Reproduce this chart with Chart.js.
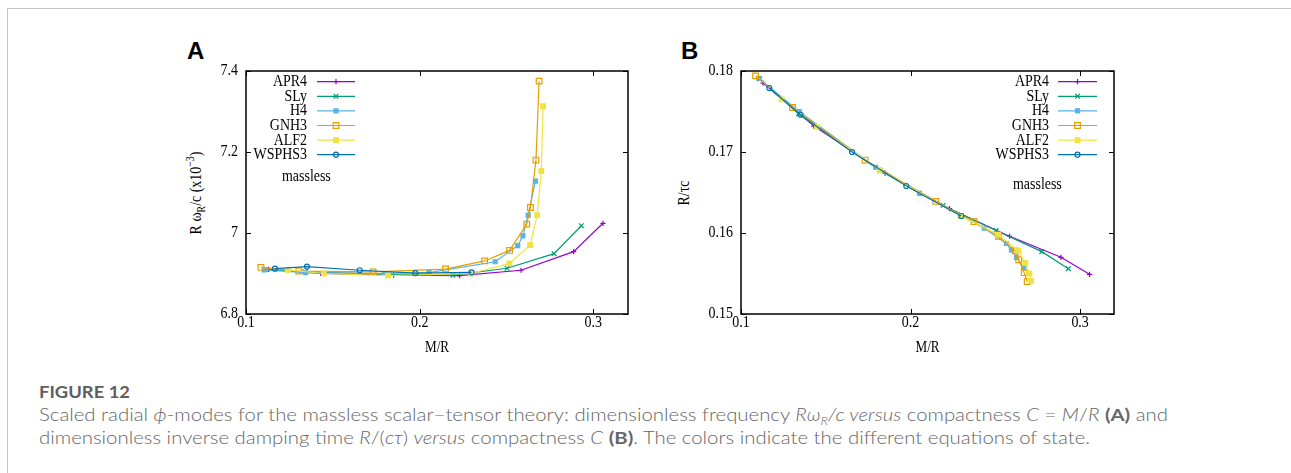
<!DOCTYPE html>
<html>
<head>
<meta charset="utf-8">
<script src="https://cdn.jsdelivr.net/npm/chart.js@4.4.0/dist/chart.umd.min.js"></script>
<style>
  body { margin:0; width:1291px; height:473px; background:#fff; position:relative; overflow:hidden; font-family:"Liberation Serif", serif; }
  #frame { position:absolute; left:7px; top:8px; right:-2px; bottom:-2px; border-top:1px solid #c4c4c4; border-left:1px solid #c4c4c4; }
  .box { position:absolute; }
  .panel { position:absolute; font:bold 24px "Liberation Sans", Arial, sans-serif; line-height:24px; color:#000; }
  .ytitle { position:absolute; font-size:17px; color:#000; white-space:nowrap; transform:translate(-50%,-50%) rotate(-90deg) scaleX(0.82); }
  .ytitle sub, .ytitle sup { font-size:12px; }
  .cap { position:absolute; left:39px; white-space:nowrap; transform-origin:0 50%; font-family:Lato, "Open Sans", sans-serif; }
  #fig { top:382px; font-size:17px; line-height:20px; color:#5e5e5e; font-weight:bold; }
  #l1 { top:405px; font-size:17px; line-height:20px; color:#666; font-weight:300; }
  #l2 { top:428px; font-size:17px; line-height:20px; color:#666; font-weight:300; }
  .cap sub { font-size:11px; }
  .cap b { font-weight:bold; }
</style>
</head>
<body>
<div id="frame"></div>
<div class="panel" style="left:187px; top:39px;">A</div>
<div class="panel" style="left:681px; top:39px;">B</div>
<div class="ytitle" style="left:196px; top:193px;">R ω<sub>R</sub>/c (x10<sup>−3</sup>)</div>
<div class="ytitle" style="left:684px; top:193px;">R/τc</div>
<div class="box" style="left:140px; top:50px; width:510px; height:310px;"><canvas id="chartA"></canvas></div>
<div class="box" style="left:650px; top:50px; width:490px; height:310px;"><canvas id="chartB"></canvas></div>
<div class="cap" id="fig">FIGURE 12</div>
<div class="cap" id="l1">Scaled radial <i>ϕ</i>-modes for the massless scalar−tensor theory: dimensionless frequency <i>Rω<sub>R</sub>/c versus</i> compactness <i>C</i> = <i>M</i>/<i>R</i> <b>(A)</b> and</div>
<div class="cap" id="l2">dimensionless inverse damping time <i>R</i>/(<i>cτ</i>) <i>versus</i> compactness <i>C</i> <b>(B)</b>. The colors indicate the different equations of state.</div>

<script>
// compactness M/R for each equation of state
var apr4C   = [0.113, 0.143, 0.185, 0.223, 0.2584, 0.2887, 0.3056];
var slyC    = [0.111, 0.134, 0.182, 0.2192, 0.2504, 0.2774, 0.2931];
var h4C     = [0.1105, 0.1343, 0.1795, 0.2053, 0.2435, 0.2565, 0.2595, 0.2625, 0.2667];
var gnh3C   = [0.1086, 0.1304, 0.1732, 0.2149, 0.2374, 0.2518, 0.2617, 0.2638, 0.2670, 0.2688];
var alf2C   = [0.124, 0.1448, 0.1818, 0.2297, 0.2517, 0.2636, 0.2677, 0.2701, 0.2711];
var wsphs3C = [0.1167, 0.1351, 0.1655, 0.1975, 0.2299];

// panel A: R omega_R / c  (x10^-3)
var apr4W   = [6.910, 6.900, 6.896, 6.895, 6.908, 6.954, 7.024];
var slyW    = [6.910, 6.904, 6.898, 6.896, 6.913, 6.949, 7.018];
var h4W     = [6.909, 6.902, 6.900, 6.902, 6.929, 6.969, 6.993, 7.044, 7.128];
var gnh3W   = [6.915, 6.906, 6.904, 6.911, 6.931, 6.957, 7.022, 7.063, 7.180, 7.375];
var alf2W   = [6.909, 6.900, 6.895, 6.900, 6.925, 6.970, 7.044, 7.153, 7.313];
var wsphs3W = [6.912, 6.917, 6.908, 6.901, 6.903];

// panel B: R / (tau c)
var apr4T   = [0.1785, 0.1732, 0.1674, 0.1630, 0.1596, 0.1570, 0.1549];
var slyT    = [0.1790, 0.1747, 0.1677, 0.1634, 0.1603, 0.1577, 0.1556];
var h4T     = [0.1791, 0.1750, 0.1681, 0.1649, 0.1606, 0.1587, 0.1579, 0.1570, 0.1557];
var gnh3T   = [0.1794, 0.1755, 0.1690, 0.1639, 0.1614, 0.1596, 0.1578, 0.1567, 0.1551, 0.1540];
var alf2T   = [0.1765, 0.1731, 0.1678, 0.1621, 0.1598, 0.1578, 0.1563, 0.1550, 0.1541];
var wsphs3T = [0.1779, 0.1746, 0.1700, 0.1658, 0.1621];

var eosNames = ['APR4', 'SLy', 'H4', 'GNH3', 'ALF2', 'WSPHS3'];

var xTicks = [0.1, 0.2, 0.3];
var xTickLabels = ['0.1', '0.2', '0.3'];
var yTicksA = [6.8, 7.0, 7.2, 7.4];
var yTickLabelsA = ['6.8', '7', '7.2', '7.4'];
var yTicksB = [0.15, 0.16, 0.17, 0.18];
var yTickLabelsB = ['0.15', '0.16', '0.17', '0.18'];

// gnuplot-like look for each series
var looks = [
  { color: '#9400d3', mark: 'cross',    radius: 2.6, open: false },
  { color: '#009e73', mark: 'crossRot', radius: 3.3, open: false },
  { color: '#56b4e9', mark: 'rect',     radius: 2.8, open: false },
  { color: '#e69f00', mark: 'rect',     radius: 4,   open: true },
  { color: '#f0e442', mark: 'rect',     radius: 3.3, open: false },
  { color: '#0072b2', mark: 'circle',   radius: 2.5, open: true }
];

var serif = '"Liberation Serif", "Times New Roman", serif';
var squeeze = 0.82;   // the figure's lettering is narrow for its height

function pts(xs, ys) {
  return xs.map(function (x, i) { return { x: x, y: ys[i] }; });
}

function buildSets(series) {
  return series.map(function (s, i) {
    var lk = looks[i];
    return {
      label: eosNames[i],
      data: pts(s[0], s[1]),
      showLine: true,
      borderColor: lk.color,
      backgroundColor: lk.color,
      borderWidth: 1.2,
      pointStyle: lk.mark,
      pointRadius: lk.radius,
      pointBorderColor: lk.color,
      pointBackgroundColor: lk.open ? 'rgba(0,0,0,0)' : lk.color,
      pointBorderWidth: 1.2,
      order: 10 - i
    };
  });
}

function drawMark(ctx, lk, x, y) {
  var r = lk.radius;
  ctx.save();
  ctx.strokeStyle = lk.color;
  ctx.fillStyle = lk.open ? 'rgba(0,0,0,0)' : lk.color;
  ctx.lineWidth = 1.2;
  ctx.beginPath();
  if (lk.mark === 'cross') {
    ctx.moveTo(x - r, y); ctx.lineTo(x + r, y);
    ctx.moveTo(x, y - r); ctx.lineTo(x, y + r);
    ctx.stroke();
  } else if (lk.mark === 'crossRot') {
    var d = r * Math.SQRT1_2;
    ctx.moveTo(x - d, y - d); ctx.lineTo(x + d, y + d);
    ctx.moveTo(x - d, y + d); ctx.lineTo(x + d, y - d);
    ctx.stroke();
  } else if (lk.mark === 'rect') {
    var h = r * Math.SQRT1_2;
    ctx.rect(x - h, y - h, 2 * h, 2 * h);
    ctx.fill(); ctx.stroke();
  } else {
    ctx.arc(x, y, r, 0, Math.PI * 2);
    ctx.fill(); ctx.stroke();
  }
  ctx.restore();
}

function narrowText(ctx, text, x, y, align) {
  ctx.save();
  ctx.translate(x, y);
  ctx.scale(squeeze, 1);
  ctx.textAlign = align;
  ctx.fillText(text, 0, 0);
  ctx.restore();
}

var gnuplotLook = {
  id: 'gnuplotLook',
  afterDraw: function (chart, args, o) {
    var ctx = chart.ctx, a = chart.chartArea;
    var xs = chart.scales.x, ys = chart.scales.y;
    ctx.save();
    ctx.strokeStyle = '#000';
    ctx.lineWidth = 1;
    ctx.beginPath();
    xs.ticks.forEach(function (t) {
      var px = Math.round(xs.getPixelForValue(t.value)) + 0.5;
      ctx.moveTo(px, a.bottom); ctx.lineTo(px, a.bottom - 5);
      ctx.moveTo(px, a.top); ctx.lineTo(px, a.top + 5);
    });
    ys.ticks.forEach(function (t) {
      var py = Math.round(ys.getPixelForValue(t.value)) + 0.5;
      ctx.moveTo(a.left, py); ctx.lineTo(a.left + 5, py);
      ctx.moveTo(a.right, py); ctx.lineTo(a.right - 5, py);
    });
    ctx.stroke();
    ctx.lineWidth = 1.5;
    ctx.strokeRect(a.left, a.top, a.right - a.left, a.bottom - a.top);

    ctx.font = '17px ' + serif;
    ctx.fillStyle = '#000';
    ctx.textBaseline = 'middle';

    // tick labels
    xs.ticks.forEach(function (t, i) {
      narrowText(ctx, o.xLabels[i], xs.getPixelForValue(t.value), a.bottom + 9, 'center');
    });
    ys.ticks.forEach(function (t, i) {
      narrowText(ctx, o.yLabels[i], a.left - 8, ys.getPixelForValue(t.value), 'right');
    });

    // key, gnuplot style: name right-aligned, then a line sample with its mark
    var base = o.fromRight ? a.right : a.left;
    eosNames.forEach(function (name, i) {
      var y = a.top + o.rowY + i * o.rowStep;
      ctx.fillStyle = '#000';
      narrowText(ctx, name, base + o.textX, y, 'right');
      var lk = looks[i];
      ctx.strokeStyle = lk.color;
      ctx.lineWidth = 1.2;
      ctx.beginPath();
      ctx.moveTo(base + o.lineX0, y); ctx.lineTo(base + o.lineX1, y);
      ctx.stroke();
      drawMark(ctx, lk, base + (o.lineX0 + o.lineX1) / 2, y);
    });
    ctx.fillStyle = '#000';
    narrowText(ctx, 'massless', base + o.noteX, a.top + o.noteY, 'left');

    // x title
    ctx.font = '16px ' + serif;
    narrowText(ctx, 'M/R', (a.left + a.right) / 2, a.bottom + 34, 'center');
    ctx.restore();
  }
};

function makeChart(id, series, yMin, yMax, yTicks, yLabels, yWidth, padRight, key) {
  key.xLabels = xTickLabels;
  key.yLabels = yLabels;
  return new Chart(document.getElementById(id).getContext('2d'), {
    type: 'scatter',
    data: { datasets: buildSets(series) },
    plugins: [gnuplotLook],
    options: {
      responsive: true,
      maintainAspectRatio: false,
      animation: false,
      layout: { padding: { top: 21, right: padRight, left: 0, bottom: 0 } },
      plugins: {
        legend: { display: false },
        tooltip: { enabled: false },
        gnuplotLook: key
      },
      scales: {
        x: {
          type: 'linear', min: 0.1, max: 0.32,
          afterBuildTicks: function (s) { s.ticks = xTicks.map(function (v) { return { value: v }; }); },
          afterFit: function (s) { s.height = 46; },
          ticks: { display: false },
          grid: { display: false, drawTicks: false },
          border: { display: false }
        },
        y: {
          type: 'linear', min: yMin, max: yMax,
          afterBuildTicks: function (s) { s.ticks = yTicks.map(function (v) { return { value: v }; }); },
          afterFit: function (s) { s.width = yWidth; },
          ticks: { display: false },
          grid: { display: false, drawTicks: false },
          border: { display: false }
        }
      }
    }
  });
}

var chartA = makeChart('chartA',
  [[apr4C, apr4W], [slyC, slyW], [h4C, h4W], [gnh3C, gnh3W], [alf2C, alf2W], [wsphs3C, wsphs3W]],
  6.8, 7.4, yTicksA, yTickLabelsA, 106, 22,
  { fromRight: false, textX: 61, lineX0: 71, lineX1: 109, rowY: 10.7, rowStep: 14.6, noteX: 36, noteY: 106 });

var chartB = makeChart('chartB',
  [[apr4C, apr4T], [slyC, slyT], [h4C, h4T], [gnh3C, gnh3T], [alf2C, alf2T], [wsphs3C, wsphs3T]],
  0.15, 0.18, yTicksB, yTickLabelsB, 91, 26,
  { fromRight: true, textX: -65, lineX0: -56, lineX1: -17, rowY: 10.7, rowStep: 14.6, noteX: -101, noteY: 114 });

// squeeze the caption to the width it has in the figure
function fitWidth(id, target) {
  var el = document.getElementById(id);
  var w = el.getBoundingClientRect().width;
  el.style.transform = 'scaleX(' + (target / w) + ')';
  return target / w;
}
var k = fitWidth('l1', 1129);
document.getElementById('l2').style.transform = 'scaleX(' + k + ')';
fitWidth('fig', 91);
</script>
</body>
</html>
